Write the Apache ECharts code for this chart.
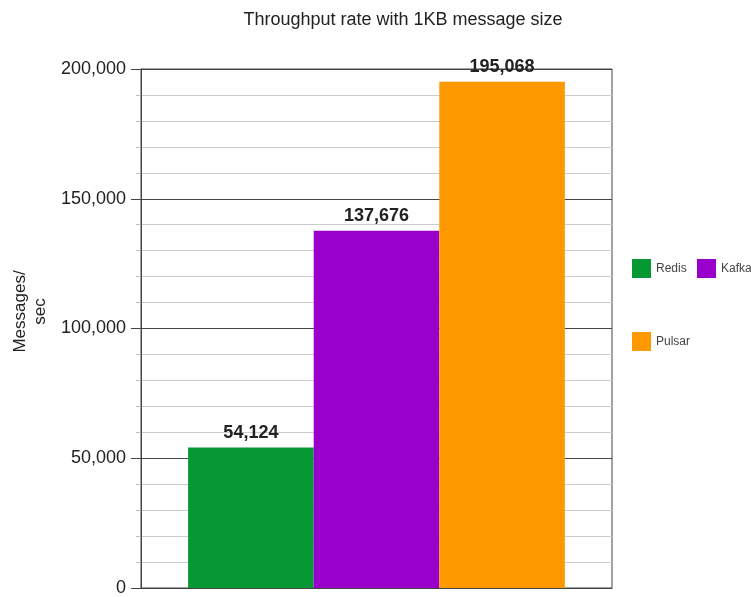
<!DOCTYPE html>
<html>
<head>
    <meta charset="utf-8">
    <title>Throughput</title>
    <script src="https://cdn.jsdelivr.net/npm/echarts@6/dist/echarts.min.js"></script>
    <style>
        html, body { margin: 0; padding: 0; background: #fff; }
        #main { width: 751px; height: 597px; }
    </style>
</head>
<body>
<div id="main"></div>
<script type="text/javascript">
    // chart data
    var categories = ['1KB'];
    var seriesNames = ['Redis', 'Kafka', 'Pulsar'];
    var seriesValues = [[54124], [137676], [195068]];
    var seriesColors = ['#069833', '#9900cc', '#ff9900'];
    var yTicks = [0, 50000, 100000, 150000, 200000];

    var fmt = function (v) { return Number(v).toLocaleString('en-US'); };

    var myChart = echarts.init(document.getElementById('main'));

    var series = seriesNames.map(function (name, i) {
        return {
            name: name,
            type: 'bar',
            data: seriesValues[i],
            itemStyle: { color: seriesColors[i] },
            barGap: '0%',
            barCategoryGap: '20%',
            label: {
                show: true,
                position: 'top',
                distance: 6,
                formatter: function (p) { return fmt(p.value); },
                fontFamily: 'Liberation Sans',
                fontWeight: 'bold',
                fontSize: 18,
                color: '#222'
            }
        };
    });

    // one legend box per entry so they sit where the reference has them
    var legendPos = [[627, 254], [692, 254], [627, 327]];
    var legends = seriesNames.map(function (name, i) {
        return {
            data: [name],
            left: legendPos[i][0],
            top: legendPos[i][1],
            itemWidth: 19,
            itemHeight: 19,
            itemGap: 0,
            icon: 'rect',
            textStyle: { fontFamily: 'Liberation Sans', fontSize: 12, color: '#444' }
        };
    });

    var option = {
        animation: false,
        title: {
            text: 'Throughput rate with 1KB message size',
            left: 398,
            textAlign: 'center',
            top: 6,
            textStyle: { fontFamily: 'Liberation Sans', fontWeight: 'normal', fontSize: 18, color: '#222' }
        },
        legend: legends,
        grid: {
            left: 141,
            top: 69,
            width: 471,
            bottom: 6,
            show: true,
            borderColor: '#444',
            borderWidth: 1
        },
        xAxis: {
            type: 'category',
            data: categories,
            axisLabel: { show: false },
            axisTick: { show: false },
            axisLine: { lineStyle: { color: '#444', width: 1 } }
        },
        yAxis: {
            type: 'value',
            min: yTicks[0],
            max: yTicks[yTicks.length - 1],
            interval: 50000,
            name: 'Messages/\nsec',
            nameLocation: 'middle',
            nameGap: 91,
            nameTextStyle: {
                fontFamily: 'Liberation Sans', fontSize: 17, color: '#222',
                lineHeight: 20, padding: [0, 0, 0, 34]
            },
            axisLine: { show: true, lineStyle: { color: '#444' } },
            axisTick: { show: true, length: 10, lineStyle: { color: '#444' } },
            minorTick: { show: true, splitNumber: 5, length: 5, lineStyle: { color: '#bbb' } },
            axisLabel: {
                formatter: fmt,
                fontFamily: 'Liberation Sans',
                fontSize: 18,
                color: '#222',
                margin: 15
            },
            splitLine: { show: true, lineStyle: { color: '#444' } },
            minorSplitLine: { show: true, lineStyle: { color: '#ccc' } }
        },
        series: series
    };

    myChart.setOption(option);
</script>
</body>
</html>
